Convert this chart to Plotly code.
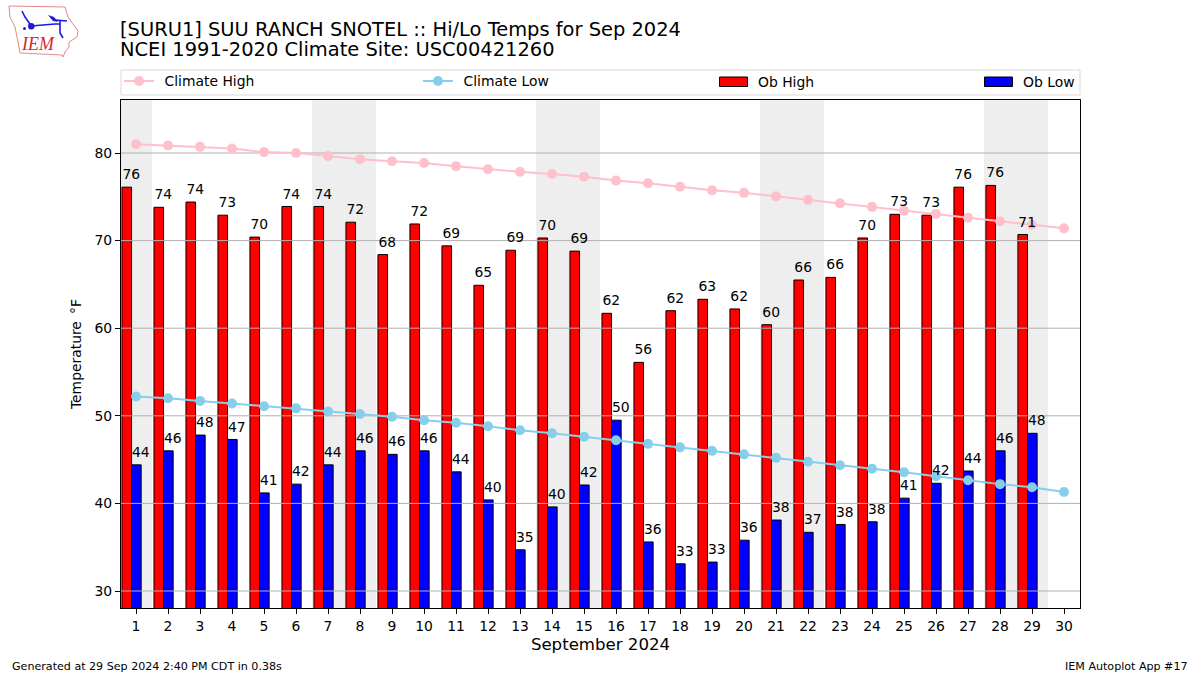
import plotly.graph_objects as go

days = list(range(1, 31))
ob_days = list(range(1, 30))
ob_high = [76.1, 73.8, 74.4, 72.9, 70.4, 73.9, 73.9, 72.1, 68.4, 71.9, 69.4, 64.9, 68.9, 70.3, 68.8,
           61.7, 56.1, 62.0, 63.3, 62.2, 60.4, 65.5, 65.8, 70.3, 73.0, 72.9, 76.1, 76.3, 70.7]
ob_low = [44.4, 46.0, 47.8, 47.3, 41.2, 42.2, 44.4, 46.0, 45.6, 46.0, 43.6, 40.4, 34.7, 39.6, 42.1,
          49.5, 35.6, 33.1, 33.3, 35.8, 38.1, 36.7, 37.6, 37.9, 40.6, 42.3, 43.7, 46.0, 48.0]
climate_high = [81.0, 80.85, 80.7, 80.5, 80.1, 80.0, 79.65, 79.3, 79.05, 78.85, 78.5, 78.15, 77.85, 77.6, 77.3,
                76.85, 76.55, 76.15, 75.75, 75.45, 75.05, 74.65, 74.25, 73.85, 73.4, 73.05, 72.6, 72.2, 71.8, 71.4]
climate_low = [52.2, 52.0, 51.7, 51.4, 51.1, 50.85, 50.5, 50.2, 49.9, 49.5, 49.2, 48.8, 48.35, 48.0, 47.6,
               47.2, 46.8, 46.4, 46.0, 45.6, 45.2, 44.75, 44.35, 43.95, 43.55, 43.1, 42.65, 42.2, 41.85, 41.3]
weekend_spans = [(0.5, 1.5), (6.5, 8.5), (13.5, 15.5), (20.5, 22.5), (27.5, 29.5)]
y_ticks = [30, 40, 50, 60, 70, 80]
X_RANGE = [0.53, 30.5]
Y_RANGE = [28.06, 86.05]

FONT = "DejaVu Sans"
W, H = 1200, 675
L, R, T, B = 121, 1080, 100, 608


def px(x):
    return (x - L) / (R - L)


def py(y):
    return (B - y) / (B - T)


def poly(points, close=True):
    d = "M" + "L".join(f"{px(a):.5f},{py(b):.5f}" for a, b in points)
    return d + ("Z" if close else "")


fig = go.Figure()
fig.add_bar(x=[d - 0.29 for d in ob_days], y=ob_high, width=0.3, name="Ob High", showlegend=False,
            marker=dict(color="red", line=dict(color="black", width=1)))
fig.add_bar(x=[d + 0.01 for d in ob_days], y=ob_low, width=0.3, name="Ob Low", showlegend=False,
            marker=dict(color="blue", line=dict(color="black", width=1)))

# horizontal grid lines sit on top of the bars in the reference
for t in y_ticks:
    fig.add_scatter(x=X_RANGE, y=[t, t], mode="lines", line=dict(color="#b0b0b0", width=1),
                    showlegend=False, hoverinfo="skip")

fig.add_scatter(x=days, y=climate_high, mode="lines+markers", name="\u2009\u2009Climate High", legend="legend",
                line=dict(color="pink", width=2), marker=dict(color="pink", size=10))
fig.add_scatter(x=days, y=climate_low, mode="lines+markers", name="\u2009\u2009Climate Low", legend="legend2",
                line=dict(color="skyblue", width=2), marker=dict(color="skyblue", size=10))

label_marker = dict(size=5.5, opacity=0)
fig.add_scatter(x=[d - 0.15 for d in ob_days], y=ob_high, mode="text+markers", showlegend=False,
                marker=label_marker, text=[f"{round(v)}" for v in ob_high], textposition="top center",
                textfont=dict(family=FONT, size=13.9, color="black"), hoverinfo="skip")
fig.add_scatter(x=[d + 0.15 for d in ob_days], y=ob_low, mode="text+markers", showlegend=False,
                marker=label_marker, text=[f"{round(v)}" for v in ob_low], textposition="top center",
                textfont=dict(family=FONT, size=13.9, color="black"), hoverinfo="skip")

shapes = []
for a, b in weekend_spans:
    shapes.append(dict(type="rect", xref="x", yref="paper", x0=max(a, X_RANGE[0]), x1=b, y0=0, y1=1,
                       fillcolor="#eeeeee", line=dict(width=0), layer="below"))

# legend frame
shapes.append(dict(type="rect", xref="paper", yref="paper", x0=px(121), x1=px(1080), y0=py(95), y1=py(70),
                   fillcolor="white", line=dict(color="#d9d9d9", width=1), layer="below"))
# bar legend keys
shapes.append(dict(type="rect", xref="paper", yref="paper", x0=px(719.5), x1=px(747.5), y0=py(86.5), y1=py(77),
                   fillcolor="red", line=dict(color="black", width=1)))
shapes.append(dict(type="rect", xref="paper", yref="paper", x0=px(984.5), x1=px(1012.5), y0=py(86.5), y1=py(77),
                   fillcolor="blue", line=dict(color="black", width=1)))

# IEM logo
outline = [(9, 6), (65, 7), (68, 17), (78, 31), (77, 37), (69, 42), (69, 47), (65, 52),
           (63, 57), (62, 55), (20, 53), (18, 42), (15, 27), (10, 17)]
shapes.append(dict(type="path", xref="paper", yref="paper", path=poly(outline),
                   line=dict(color="#e58a8a", width=1), fillcolor="rgba(0,0,0,0)"))
logo_lines = [[(22, 11), (25, 17), (30, 24)], [(31, 26), (55, 24), (60, 24)], [(60, 21), (60, 33), (63, 38)],
              [(55, 20), (67, 21)]]
for seg in logo_lines:
    shapes.append(dict(type="path", xref="paper", yref="paper", path=poly(seg, close=False),
                       line=dict(color="#1a1ae0", width=1.6)))
shapes.append(dict(type="path", xref="paper", yref="paper", path=poly([(48, 15), (54, 17), (58, 22), (53, 21)]),
                   fillcolor="#1a1ae0", line=dict(width=0)))
shapes.append(dict(type="circle", xref="paper", yref="paper", x0=px(28), x1=px(34.5), y0=py(29.5), y1=py(23),
                   fillcolor="#1a1ae0", line=dict(width=0)))
shapes.append(dict(type="circle", xref="paper", yref="paper", x0=px(23), x1=px(26), y0=py(30), y1=py(27),
                   fillcolor="#1a1ae0", line=dict(width=0)))


def note(text, x, y, size, xanchor="left", color="black", family=FONT, angle=0):
    return dict(text=text, xref="paper", yref="paper", x=px(x), y=py(y), xanchor=xanchor, yanchor="middle",
                showarrow=False, textangle=angle, font=dict(family=family, size=size, color=color))


annotations = [
    note("[SURU1] SUU RANCH SNOTEL :: Hi/Lo Temps for Sep 2024", 118, 29, 19.45),
    note("NCEI 1991-2020 Climate Site: USC00421260", 118, 50, 19.45),
    note("Ob High", 756, 81.5, 13.9),
    note("Ob Low", 1021, 81.5, 13.9),
    note("Generated at 29 Sep 2024 2:40 PM CDT in 0.38s", 10, 666, 11.1),
    note("IEM Autoplot App #17", 1190, 666, 11.1, xanchor="right"),
    note("<i>IEM</i>", 38, 44.5, 18, xanchor="center", color="#d9262c", family="Liberation Serif"),
]

axis_common = dict(showline=True, linecolor="black", linewidth=1, mirror=True, ticks="outside", ticklen=5,
                   tickwidth=1, tickcolor="black", zeroline=False, showgrid=False,
                   tickfont=dict(family=FONT, size=13.9, color="black"))


def line_legend(x):
    return dict(x=px(x), y=py(81.5), xanchor="left", yanchor="middle", bgcolor="rgba(0,0,0,0)", borderwidth=0,
                itemwidth=30, font=dict(family=FONT, size=13.9, color="black"), orientation="h")


fig.update_layout(
    width=W, height=H, autosize=False,
    margin=dict(l=L, r=W - R, t=T, b=H - B, autoexpand=False),
    paper_bgcolor="white", plot_bgcolor="white",
    barmode="overlay",
    shapes=shapes, annotations=annotations,
    legend=line_legend(119),
    legend2=line_legend(418),
    xaxis=dict(range=X_RANGE, tickmode="array", tickvals=days, ticktext=[str(d) for d in days],
               title=dict(text="September 2024", font=dict(family=FONT, size=16.6, color="black"), standoff=5),
               **axis_common),
    yaxis=dict(range=Y_RANGE, tickmode="array", tickvals=y_ticks, ticktext=[str(t) for t in y_ticks],
               title=dict(text="Temperature \u2009°F",
                          font=dict(family=FONT, size=13.9, color="black"), standoff=9),
               **axis_common),
)

fig.write_html("out.html", config={"displayModeBar": False},
               post_script="document.body.style.margin='0';")
